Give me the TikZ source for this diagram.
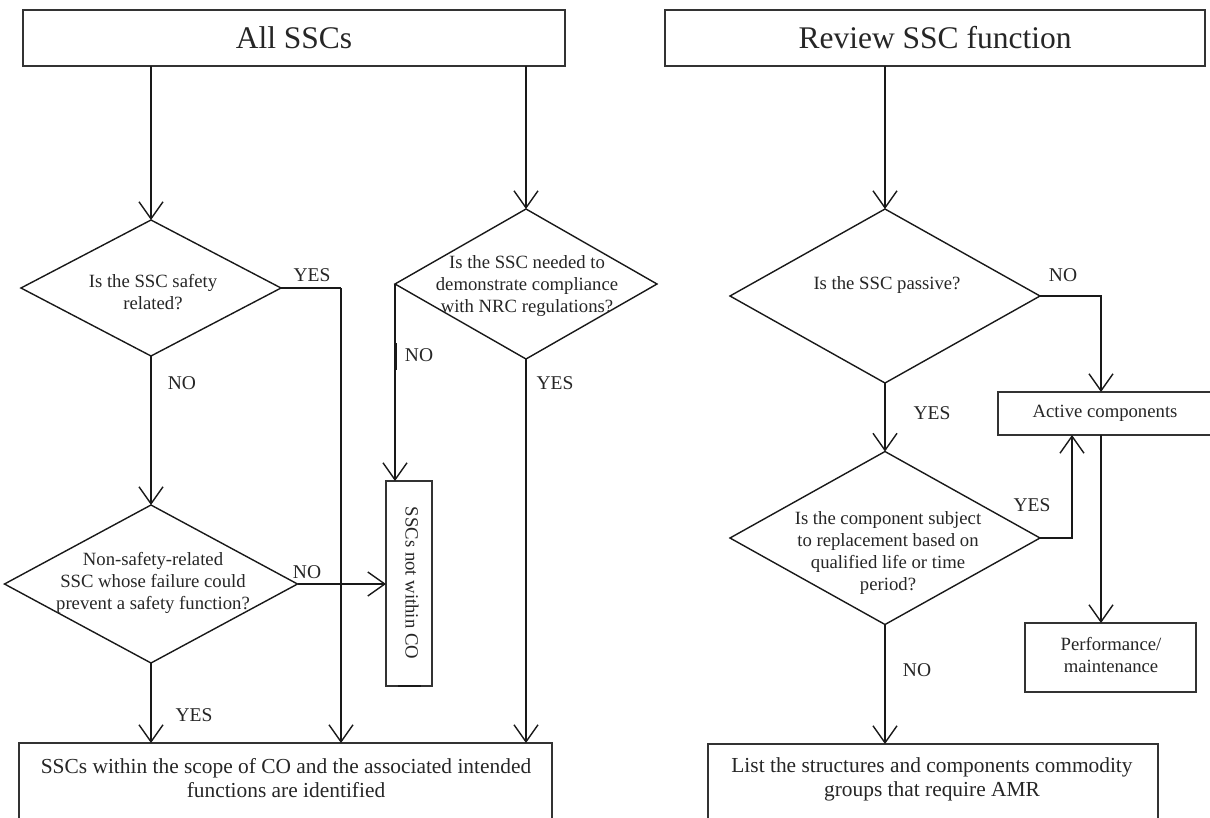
\documentclass[tikz,border=0pt]{standalone}
\usepackage{fontspec}
\setmainfont{Liberation Serif}
\usetikzlibrary{shapes.geometric,arrows.meta}
\begin{document}
\begin{tikzpicture}[x=1pt,y=-1pt,
  box/.style={draw=black!80,line width=1.1pt,inner sep=0pt,outer sep=0pt,text=black!85},
  dia/.style={diamond,draw=black!90,line width=1.4pt,inner sep=0pt,outer sep=0pt},
  dtext/.style={align=center,font=\fontsize{18.7}{21.8}\selectfont,text=black!85,inner sep=0pt},
  lbl/.style={font=\fontsize{19.5}{22}\selectfont,text=black!85,inner sep=0pt},
  ttl/.style={font=\fontsize{31.5}{36}\selectfont,text=black!85},
  btxt/.style={align=center,font=\fontsize{21.4}{24}\selectfont,text=black!85,inner sep=0pt},
  arr/.style={draw=black!90,line width=1.4pt,-{Straight Barb[length=17pt,width=24pt,line width=1.4pt]}},
  thk/.style={draw=black!90,line width=2.6pt}
]
\useasboundingbox (0,0) rectangle (1210,817);
\clip (0,0) rectangle (1210,817);
\fill[white] (0,0) rectangle (1210,817);

% top boxes
\node[box,ttl,minimum width=542pt,minimum height=56pt] (t1) at (294,38) {All SSCs};
\node[box,ttl,minimum width=540pt,minimum height=56pt] (t2) at (935,38) {Review SSC function};

% left decisions
\node[dia,minimum width=260pt,minimum height=136pt] (d1) at (151,288) {};
\node[dtext] (d1t) at (153,292) {Is the SSC safety\\related?};
\node[dia,minimum width=262pt,minimum height=150pt] (d2) at (526,284) {};
\node[dtext] (d2t) at (527,286) {Is the SSC needed to\\demonstrate compliance\\with NRC regulations?};
\node[dia,minimum width=293pt,minimum height=158pt] (d3) at (151,584) {};
\node[dtext] (d3t) at (153,583) {Non-safety-related\\SSC whose failure could\\prevent a safety function?};
\node[box,minimum width=46pt,minimum height=205pt] (nb) at (409,583.5) {};
\node[dtext,rotate=-90] (nbt) at (412,583) {SSCs not within CO};
\node[box,minimum width=533pt,minimum height=90pt] (b1) at (285.5,788) {};
\node[btxt] (b1t) at (286,778) {SSCs within the scope of CO and the associated intended\\functions are identified};

% right decisions
\node[dia,minimum width=310pt,minimum height=174pt] (d4) at (885,296) {};
\node[dtext] (d4t) at (887,285) {Is the SSC passive?};
\node[dia,minimum width=310pt,minimum height=173pt] (d5) at (885,538) {};
\node[dtext] (d5t) at (888,553) {Is the component subject\\to replacement based on\\qualified life or time\\period?};
\node[box,dtext,minimum width=214pt,minimum height=43pt] (act) at (1105,413.5) {Active components};
\node[box,minimum width=171pt,minimum height=69pt] (pf) at (1110.5,657.5) {};
\node[dtext] (pft) at (1111,655) {Performance/\\maintenance};
\node[box,minimum width=450pt,minimum height=90pt] (b2) at (933,789) {};
\node[btxt] (b2t) at (932,779) {List the structures and components commodity\\groups that require AMR};

% labels
\node[lbl] (l1) at (312,275) {YES};
\node[lbl] (l2) at (182,383) {NO};
\node[lbl] (l3) at (307,572) {NO};
\node[lbl] (l4) at (194,715) {YES};
\node[lbl] (l5) at (419,355) {NO};
\node[lbl] (l6) at (555,383) {YES};
\node[lbl] (l7) at (1063,275) {NO};
\node[lbl] (l8) at (932,413) {YES};
\node[lbl] (l9) at (1032,505) {YES};
\node[lbl] (l10) at (917,670) {NO};

% connectors
\coordinate (y1) at (341,288);
\coordinate (n4) at (1101,296);
\coordinate (y5) at (1072,538);

\draw[arr] (t1.south -| d1.north) -- (d1.north);
\draw[arr] (t1.south -| d2.north) -- (d2.north);
\draw[thk] (d1.east) -- (y1);
\draw[arr] (y1) -- (y1 |- b1.north);
\draw[arr] (d1.south) -- (d3.north);
\draw[arr] (d3.east) -- (d3.east -| nb.west);
\draw[arr] (d3.south) -- (d3.south |- b1.north);
\draw[arr] (d2.west) -- (d2.west |- nb.north);
\draw[arr] (d2.south) -- (d2.south |- b1.north);

\draw[arr] (t2.south -| d4.north) -- (d4.north);
\draw[arr] (d4.east) -- (n4) -- (n4 |- act.north);
\draw[arr] (d4.south) -- (d5.north);
\draw[arr] (d5.east) -- (y5) -- (y5 |- act.south);
\draw[arr] (n4 |- act.south) -- (n4 |- pf.north);
\draw[arr] (d5.south) -- (d5.south |- b2.north);

% heavier segments
\draw[thk] (396,343) -- (396,370);
\draw[thk] (151,682) -- (151,710);
\draw[thk] (341,558) -- (341,580);
\draw[thk] (398,686) -- (421,686);
\end{tikzpicture}
\end{document}
